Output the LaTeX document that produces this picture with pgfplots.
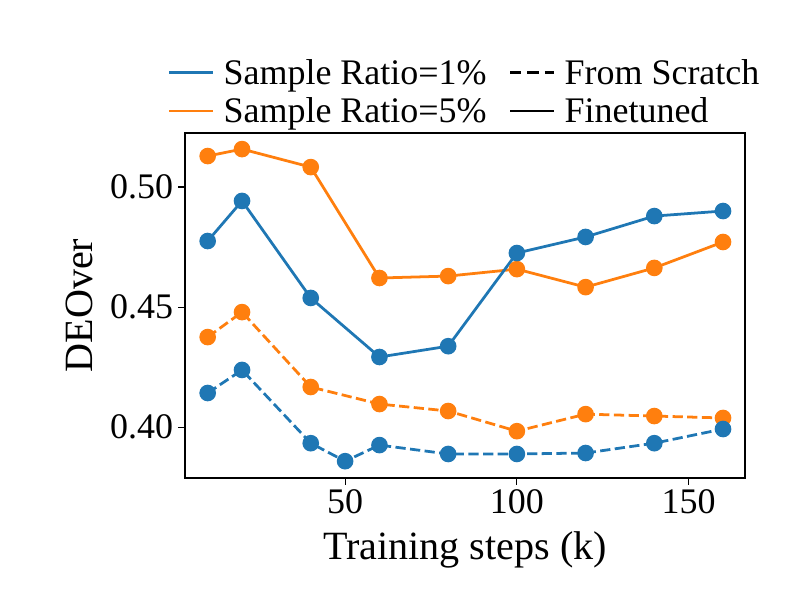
\documentclass[border=0pt]{standalone}
\usepackage{fontspec}
\setmainfont{Liberation Serif}
\usepackage{pgfplots}
\pgfplotsset{compat=1.18}
\definecolor{tabblue}{HTML}{1F77B4}
\definecolor{taborange}{HTML}{FF7F0E}
\begin{document}
\begin{tikzpicture}[x=1in,y=1in]
\path (0,0) rectangle (7.92,6.16);
\begin{axis}[
  at={(1.85in,1.38in)}, anchor=south west,
  scale only axis,
  width=5.60in, height=3.45in,
  xmin=3.4, xmax=166.4,
  ymin=0.3788, ymax=0.5225,
  xtick={50,100,150},
  ytick={0.40,0.45,0.50},
  yticklabel style={/pgf/number format/.cd,fixed,fixed zerofill,precision=2},
  /pgf/number format/assume math mode=true,
  tick label style={font=\fontsize{26}{30}\selectfont},
  label style={font=\fontsize{29}{34}\selectfont},
  xlabel={Training steps (k)},
  ylabel={DEOver},
  xlabel style={yshift=-6pt},
  ylabel style={yshift=6pt},
  tick align=outside,
  major tick length=5pt,
  tick style={black, line width=0.8pt},
  axis line style={line width=0.8pt},
  xtick pos=bottom, ytick pos=left,
  legend columns=2,
  legend style={draw=none, fill=none, at={(0.5,1.0)}, anchor=south, yshift=2pt,
    font=\fontsize{26}{30}\selectfont, row sep=4pt,
    /tikz/every odd column/.append style={column sep=5pt},
    /tikz/every even column/.append style={column sep=14pt}},
  legend cell align=left,
  legend image code/.code={\draw[#1] (0cm,0cm) -- (1.1cm,0cm);},
  every axis plot/.append style={line width=2pt, mark=*, mark size=5pt},
]
\addlegendimage{tabblue, solid, line width=2pt}
\addlegendentry{Sample Ratio=1\%}
\addlegendimage{black, dash pattern=on 8pt off 4.5pt, line width=2pt}
\addlegendentry{From Scratch}
\addlegendimage{taborange, solid, line width=2pt}
\addlegendentry{Sample Ratio=5\%}
\addlegendimage{black, solid, line width=2pt}
\addlegendentry{Finetuned}

% Finetuned, 5%
\addplot[taborange, solid, mark options={fill=taborange}, forget plot] coordinates {
(10,0.5129) (20,0.5158) (40,0.5083) (60,0.4621) (80,0.4629) (100,0.4658) (120,0.4583) (140,0.4663) (160,0.4771)
};
% Finetuned, 1%
\addplot[tabblue, solid, mark options={fill=tabblue}, forget plot] coordinates {
(10,0.4775) (20,0.4942) (40,0.4538) (60,0.4292) (80,0.4337) (100,0.4725) (120,0.4792) (140,0.4879) (160,0.4900)
};
% From scratch, 5%
\addplot[taborange, dash pattern=on 7.4pt off 3.2pt, mark options={solid, fill=taborange}, forget plot] coordinates {
(10,0.4375) (20,0.4479) (40,0.4167) (60,0.4096) (80,0.4067) (100,0.3983) (120,0.4054) (140,0.4046) (160,0.4038)
};
% From scratch, 1%
\addplot[tabblue, dash pattern=on 7.4pt off 3.2pt, mark options={solid, fill=tabblue}, forget plot] coordinates {
(10,0.4142) (20,0.4238) (40,0.3933) (50,0.3858) (60,0.3925) (80,0.3888) (100,0.3888) (120,0.3892) (140,0.3933) (160,0.3992)
};
\end{axis}
\end{tikzpicture}
\end{document}
